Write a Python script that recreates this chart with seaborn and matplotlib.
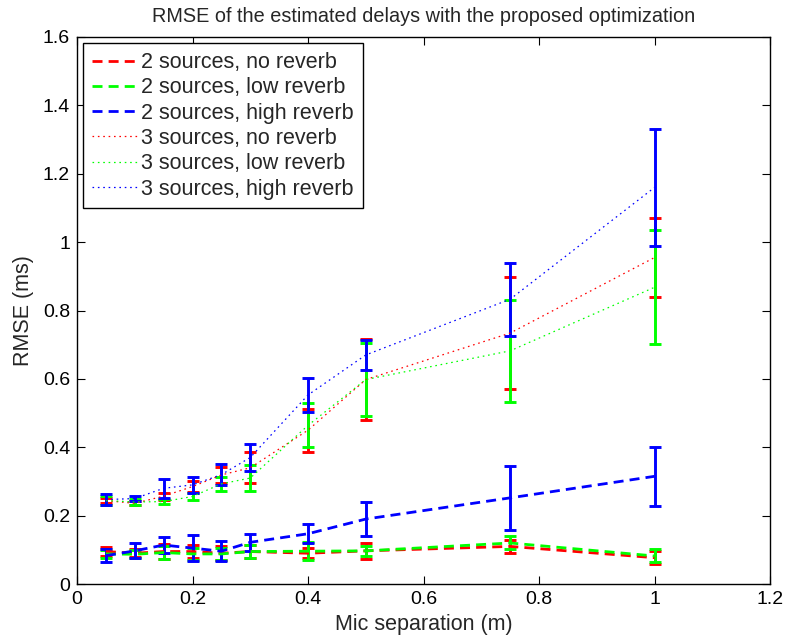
import matplotlib
matplotlib.use("Agg")
import matplotlib.pyplot as plt
import seaborn as sns
import pandas as pd

# Microphone separations (m)
separation = [0.05, 0.1, 0.15, 0.2, 0.25, 0.3, 0.4, 0.5, 0.75, 1.0]

# Mean RMSE (ms) and half-width of the error bars per condition
rmse_2_none = [0.095, 0.090, 0.095, 0.095, 0.090, 0.095, 0.090, 0.097, 0.110, 0.077]
err_2_none = [0.012, 0.012, 0.022, 0.020, 0.020, 0.018, 0.015, 0.024, 0.020, 0.019]
rmse_2_low = [0.088, 0.087, 0.092, 0.088, 0.088, 0.095, 0.096, 0.097, 0.120, 0.082]
err_2_low = [0.012, 0.012, 0.018, 0.018, 0.018, 0.018, 0.026, 0.015, 0.019, 0.019]
rmse_2_high = [0.083, 0.097, 0.114, 0.105, 0.096, 0.122, 0.147, 0.190, 0.252, 0.315]
err_2_high = [0.019, 0.022, 0.024, 0.037, 0.030, 0.024, 0.028, 0.050, 0.094, 0.087]
rmse_3_none = [0.244, 0.236, 0.257, 0.285, 0.319, 0.340, 0.450, 0.598, 0.734, 0.955]
err_3_none = [0.008, 0.006, 0.010, 0.015, 0.024, 0.045, 0.063, 0.118, 0.164, 0.116]
rmse_3_low = [0.244, 0.240, 0.241, 0.256, 0.293, 0.310, 0.464, 0.598, 0.682, 0.868]
err_3_low = [0.012, 0.008, 0.008, 0.010, 0.021, 0.038, 0.064, 0.108, 0.149, 0.166]
rmse_3_high = [0.247, 0.250, 0.280, 0.290, 0.320, 0.370, 0.553, 0.670, 0.833, 1.160]
err_3_high = [0.016, 0.008, 0.027, 0.023, 0.030, 0.040, 0.051, 0.043, 0.107, 0.170]

labels = ["2 sources, no reverb", "2 sources, low reverb", "2 sources, high reverb",
          "3 sources, no reverb", "3 sources, low reverb", "3 sources, high reverb"]
means = [rmse_2_none, rmse_2_low, rmse_2_high, rmse_3_none, rmse_3_low, rmse_3_high]
errs = [err_2_none, err_2_low, err_2_high, err_3_none, err_3_low, err_3_high]
colors = ["#ff0000", "#00ff00", "#0000ff", "#ff0000", "#00ff00", "#0000ff"]

xticks = [0, 0.2, 0.4, 0.6, 0.8, 1, 1.2]
yticks = [0, 0.2, 0.4, 0.6, 0.8, 1, 1.2, 1.4, 1.6]

sns.set_theme(style="white")
plt.rcParams["font.family"] = ["Liberation Sans", "DejaVu Sans"]

fig = plt.figure(figsize=(7.89, 6.41), dpi=100)
ax = fig.add_axes([0.0976, 0.0889, 0.8784, 0.8534])

df = pd.DataFrame({
    "sep": separation * 6,
    "rmse": sum(means, []),
    "err": sum(errs, []),
    "label": sum([[l] * len(separation) for l in labels], []),
})

# Error bars first (3-source sets, then 2-source sets), lines on top
for idx in [3, 4, 5, 0, 1, 2]:
    sub = df[df["label"] == labels[idx]]
    ax.errorbar(sub["sep"], sub["rmse"], yerr=sub["err"], fmt="none",
                ecolor=colors[idx], elinewidth=2.1, capsize=4.2, capthick=2.1,
                zorder=2 + idx * 0.1)

for idx, lab in enumerate(labels):
    sub = df[df["label"] == lab]
    dashed = idx < 3
    sns.lineplot(data=sub, x="sep", y="rmse", ax=ax, color=colors[idx],
                 lw=2.0 if dashed else 0.9, label=lab, zorder=3)
    line = ax.lines[-1]
    line.set_dashes((3.6, 2.2) if dashed else (1.3, 3.0))

ax.set_xlim(0, 1.2)
ax.set_ylim(0, 1.6)
ax.set_xticks(xticks)
ax.set_xticklabels([f"{t:g}" for t in xticks])
ax.set_yticks(yticks)
ax.set_yticklabels([f"{t:g}" for t in yticks])
ax.tick_params(direction="in", length=6, width=0.8, top=True, right=True,
               bottom=True, left=True, labelsize=14, colors="black", pad=5)
for sp in ax.spines.values():
    sp.set_color("black")
    sp.set_linewidth(1.0)

ax.set_xlabel("Mic separation (m)", fontsize=15.5, labelpad=4)
ax.set_ylabel("RMSE (ms)", fontsize=15.5, labelpad=6)
ax.set_title("RMSE of the estimated delays with the proposed optimization",
             fontsize=14.3, pad=11)

handles, _ = ax.get_legend_handles_labels()
leg = ax.legend(handles, labels, loc="upper left", fontsize=15.5,
                frameon=True, fancybox=False, edgecolor="black",
                framealpha=1, handlelength=2.1, handletextpad=0.19,
                borderaxespad=0.3, labelspacing=0.2, borderpad=0.4)
leg.get_frame().set_linewidth(1.0)

fig.savefig("out.png", dpi=100)
